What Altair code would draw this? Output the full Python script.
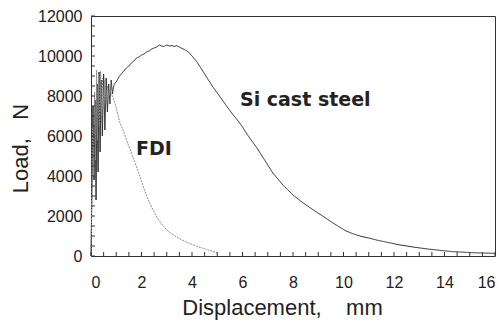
import altair as alt
import pandas as pd

# ---- data ----
si_x = [0, 0.04, 0.08, 0.12, 0.16, 0.2, 0.24, 0.28, 0.32, 0.36, 0.4, 0.45, 0.5, 0.55, 0.6, 0.65,
        0.7, 0.75, 0.8, 0.85, 0.9, 0.95, 1.0, 1.1, 1.2, 1.3, 1.4, 1.5, 1.6, 1.7, 1.8, 1.9, 2.0,
        2.1, 2.2, 2.3, 2.4, 2.5, 2.6, 2.7, 2.8, 2.9, 3.0, 3.1, 3.2, 3.3, 3.4, 3.5, 3.6, 3.7,
        3.8, 3.9, 4.0, 4.2, 4.4, 4.6, 4.8, 5.0, 5.2, 5.4, 5.6, 5.8, 6.0, 6.2, 6.4, 6.6, 6.8,
        7.0, 7.2, 7.4, 7.6, 7.8, 8.0, 8.3, 8.6, 8.9, 9.2, 9.5, 9.8, 10.1, 10.4, 10.7, 11.0,
        11.3, 11.6, 11.9, 12.2, 12.5, 12.8, 13.1, 13.4, 13.7, 14.0, 14.3, 14.6, 14.9, 15.2,
        15.5, 15.8, 16.0]
si_y = [0, 3600, 7500, 3800, 7800, 2800, 8600, 4200, 9200, 5200, 8800, 6000, 9100, 6300, 8900, 7200,
        8600, 7600, 8800, 8100, 8500, 8650, 8700, 8950, 9100, 9250, 9400, 9500, 9650, 9750, 9900,
        9950, 10050, 10100, 10200, 10250, 10350, 10400, 10450, 10550, 10500, 10480, 10550, 10500,
        10520, 10480, 10520, 10450, 10380, 10320, 10250, 10150, 10000, 9700, 9300, 8900, 8500,
        8150, 7800, 7450, 7100, 6800, 6450, 6050, 5700, 5350, 4950, 4550, 4150, 3850, 3550,
        3300, 3050, 2750, 2480, 2220, 1980, 1720, 1480, 1250, 1100, 980, 900, 800, 720, 640,
        560, 500, 440, 390, 340, 300, 260, 220, 200, 180, 160, 150, 140, 130]

fdi_x = [0, 0.03, 0.06, 0.1, 0.14, 0.18, 0.22, 0.26, 0.3, 0.34, 0.38, 0.42, 0.46, 0.5, 0.55, 0.6,
         0.65, 0.7, 0.75, 0.8, 0.85, 0.9, 0.95, 1.05, 1.15, 1.3, 1.45, 1.6, 1.75, 1.9, 2.05, 2.2,
         2.4, 2.6, 2.8, 3.0, 3.2, 3.4, 3.6, 3.8, 4.0, 4.2, 4.4, 4.6, 4.8, 5.0]
fdi_y = [0, 3000, 6500, 4000, 8200, 4800, 9300, 5800, 9100, 6500, 9250, 7000, 8900, 7400, 8800, 7600,
         8500, 8000, 8300, 8100, 8000, 7800, 7650, 7150, 6650, 6200, 5650, 5150, 4650, 4100, 3550,
         3000, 2450, 1950, 1600, 1300, 1100, 950, 800, 680, 580, 480, 400, 320, 240, 150]

series_names = ["Si cast steel", "FDI"]
series_colors = ["#2a2a2a", "#8c8c8c"]

label_text = ["Si cast steel", "FDI"]
label_x = [5.9, 1.78]
label_y = [7800, 5350]

x_tick_labels = [0, 2, 4, 6, 8, 10, 12, 14, 16]
y_tick_labels = [0, 2000, 4000, 6000, 8000, 10000, 12000]
x_minor_ticks = [i * 0.5 for i in range(33)]
y_minor_ticks = [i * 500 for i in range(25)]

x_title = "Displacement,\u00a0\u00a0\u00a0\u00a0mm"
y_title = "Load,\u00a0\u00a0\u00a0N"

# ---- build ----
W, H = 404, 240
xs = alt.Scale(domain=[0, 16], nice=False, zero=False)
ys = alt.Scale(domain=[0, 12000], nice=False)

xaxis = alt.Axis(
    values=x_tick_labels, format="d", title=x_title, ticks=False, domain=False, grid=False,
    labelFont="Liberation Sans", labelFontSize=16, labelColor="#222", labelPadding=18,
    titleFont="Liberation Sans", titleFontSize=22, titleFontWeight="normal", titleColor="#222",
    titleX=191, titleY=58, titleAlign="center", titleBaseline="alphabetic")
yaxis = alt.Axis(
    values=y_tick_labels, format="d", title=y_title, ticks=False, domain=False, grid=False,
    labelFont="Liberation Sans", labelFontSize=16, labelColor="#222", labelPadding=9,
    titleFont="Liberation Sans", titleFontSize=22, titleFontWeight="normal", titleColor="#222",
    titleX=-64, titleY=132, titleAlign="center", titleBaseline="alphabetic", titleAngle=270)

rows = []
for i, (xv, yv) in enumerate(zip(si_x, si_y)):
    rows.append({"x": xv, "y": yv, "series": series_names[0], "o": i})
for i, (xv, yv) in enumerate(zip(fdi_x, fdi_y)):
    rows.append({"x": xv, "y": yv, "series": series_names[1], "o": i})
df = pd.DataFrame(rows)

lines = alt.Chart(df).mark_line(strokeWidth=1).encode(
    x=alt.X("x:Q", scale=xs, axis=xaxis),
    y=alt.Y("y:Q", scale=ys, axis=yaxis),
    color=alt.Color("series:N", scale=alt.Scale(domain=series_names, range=series_colors), legend=None),
    strokeDash=alt.StrokeDash("series:N", scale=alt.Scale(domain=series_names, range=[[1, 0], [2, 1]]), legend=None),
    order="o:Q",
)

xt = pd.DataFrame({"x": x_minor_ticks})
yt = pd.DataFrame({"y": y_minor_ticks})

x_ticks = alt.Chart(xt).mark_rule(color="#333", strokeWidth=1).encode(
    x=alt.X("x:Q", scale=xs, axis=xaxis), y=alt.value(H), y2=alt.value(H - 4))
y_ticks = alt.Chart(yt).mark_rule(color="#333", strokeWidth=1).encode(
    y=alt.Y("y:Q", scale=ys, axis=yaxis), x=alt.value(0), x2=alt.value(4))

lab = pd.DataFrame({"t": label_text, "x": label_x, "y": label_y})
labels = alt.Chart(lab).mark_text(
    align="left", baseline="middle", font="DejaVu Sans", fontWeight="bold", fontSize=19, color="#222"
).encode(x=alt.X("x:Q", scale=xs, axis=xaxis), y=alt.Y("y:Q", scale=ys, axis=yaxis), text="t:N")

chart = alt.layer(lines, x_ticks, y_ticks, labels).properties(
    width=W, height=H,
    autosize=alt.AutoSizeParams(type="none"),
    padding={"left": 83, "top": 8, "right": 1, "bottom": 64},
    background="white",
).configure_view(stroke="#333", strokeWidth=1)

chart.save("out.html", embed_options={"renderer": "svg", "actions": False})
